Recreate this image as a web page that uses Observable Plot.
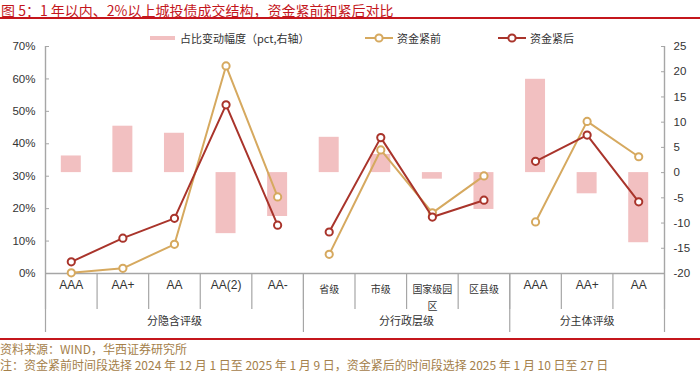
<!DOCTYPE html>
<html><head><meta charset="utf-8">
<script src="https://cdn.jsdelivr.net/npm/d3@7"></script>
<script src="https://cdn.jsdelivr.net/npm/@observablehq/plot@0.6"></script>
<style>
body{margin:0;width:700px;height:372px;overflow:hidden;background:#fff;font-family:"Noto Sans CJK SC",sans-serif;position:relative}
#title{height:17px;line-height:20px;font-size:14px;color:#c4161c;padding-left:1px;border-bottom:2px solid #c4161c;white-space:nowrap;overflow:visible}
#chart{margin-top:3px;height:316px}
#chart svg{display:block}
#foot{border-top:2px solid #c4161c;color:#a4804a;font-size:12px;white-space:nowrap;padding-top:1px}
#foot div{line-height:16px;height:16px}
.lg{position:absolute;font-size:11px;color:#333;white-space:nowrap;line-height:14px}
</style></head>
<body>
<div id="title">图 5：1 年以内、2%以上城投债成交结构，资金紧前和紧后对比</div>
<div id="chart"></div>
<div id="foot"><div>资料来源：WIND，华西证券研究所</div><div>注：资金紧前时间段选择 2024 年 12 月 1 日至 2025 年 1 月 9 日，资金紧后的时间段选择 2025 年 1 月 10 日至 27 日</div></div>
<div id="legend"></div>
<script>
const categories = ["AAA","AA+","AA","AA(2)","AA-","省级","市级","国家级园区","区县级","AAA","AA+","AA"];
const categoryLabels = ["AAA","AA+","AA","AA(2)","AA-","省级","市级","国家级园\n区","区县级","AAA","AA+","AA"];
const groupNames = ["分隐含评级","分行政层级","分主体评级"];
const groupOf = [0,0,0,0,0,1,1,1,1,2,2,2];
const before = [0.2,1.6,9.0,64.0,23.6,5.9,38.1,18.7,30.1,15.9,46.9,36.0];
const after = [3.6,10.9,17.0,52.0,14.9,12.8,41.9,17.4,22.6,34.6,42.7,22.1];
const change = [3.3,9.2,7.8,-12.1,-8.7,7.0,3.6,-1.3,-7.3,18.5,-4.2,-13.9];
const leftTicks = [0,10,20,30,40,50,60,70];
const rightTicks = [-20,-15,-10,-5,0,5,10,15,20,25];
const seriesNames = ["占比变动幅度（pct,右轴）","资金紧前","资金紧后"];

const leftDomain = [0,70], rightDomain = [-20,25];
const toLeft = v => leftDomain[0] + (v - rightDomain[0]) * (leftDomain[1]-leftDomain[0]) / (rightDomain[1]-rightDomain[0]);
const toRight = v => rightDomain[0] + (v - leftDomain[0]) * (rightDomain[1]-rightDomain[0]) / (leftDomain[1]-leftDomain[0]);

const rows = categories.map((c,i)=>({i, c, g: groupOf[i], before: before[i], after: after[i], change: change[i]}));
const n = categories.length;
const dividers = d3.range(n+1).map(i => i - 0.5);
const groupBounds = [-0.5];
groupNames.forEach((g,k)=>{ const idx = rows.filter(r=>r.g===k).map(r=>r.i); groupBounds.push(d3.max(idx)+0.5); });
const groupCenters = groupNames.map((g,k)=>{ const idx = rows.filter(r=>r.g===k).map(r=>r.i); return (d3.min(idx)+d3.max(idx))/2; });
const isCJK = s => /[\u4e00-\u9fff]/.test(s);
const latinIdx = rows.filter(r=>!isCJK(r.c)).map(r=>r.i);
const cjkIdx = rows.filter(r=>isCJK(r.c)).map(r=>r.i);

const GOLD = "#d6a95f", RED = "#a9342b", PINK = "#f2c0c1", AXIS = "#a6a6a6", TXT = "#333";
const LATIN = "'Liberation Sans', Arial, sans-serif";
const CJK = "'Noto Sans CJK SC', sans-serif";

const chart = Plot.plot({
  width: 700, height: 316,
  marginLeft: 45, marginRight: 36, marginTop: 24, marginBottom: 65,
  style: {fontFamily: LATIN, color: TXT, background: "#fff"},
  x: {type: "linear", domain: [-0.5, n - 0.5], label: null},
  y: {domain: leftDomain, label: null},
  marks: [
    Plot.rectY(rows, {x1: d => d.i - 0.5, x2: d => d.i + 0.5, y1: () => toLeft(0), y2: d => toLeft(d.change), fill: PINK, insetLeft: 15.8, insetRight: 15.8}),
    Plot.ruleY([leftDomain[0]], {stroke: AXIS, strokeWidth: 1.4}),
    Plot.ruleX([-0.5, n - 0.5], {y1: leftDomain[0], y2: leftDomain[1], stroke: AXIS, strokeWidth: 1.4}),
    Plot.axisY(leftTicks, {anchor: "left", label: null, tickSize: -4, tickPadding: 14, tickFormat: d => d + "%", fontSize: 11.5, stroke: AXIS, fill: TXT}),
    Plot.axisY(rightTicks.map(toLeft), {anchor: "right", label: null, tickSize: -4, tickPadding: 13, tickFormat: d => String(Math.round(toRight(d))), fontSize: 11.5, stroke: AXIS, fill: TXT}),
    Plot.axisX(dividers, {label: null, tickSize: 36, tickFormat: () => "", stroke: AXIS, strokeWidth: 1.2}),
    Plot.axisX(groupBounds, {label: null, tickSize: 59, tickFormat: () => "", stroke: AXIS, strokeWidth: 1.2}),
    Plot.axisX(latinIdx, {label: null, tickSize: 0, tickPadding: 7, tickFormat: i => categoryLabels[i], fontSize: 12, fontFamily: LATIN, fill: TXT}),
    Plot.axisX(cjkIdx, {label: null, tickSize: 0, tickPadding: 8, tickFormat: i => categoryLabels[i], fontSize: 10, lineHeight: 1.65, fontFamily: CJK, fill: TXT}),
    Plot.axisX(groupCenters, {label: null, tickSize: 0, tickPadding: 44, tickFormat: d => groupNames[groupCenters.indexOf(d)], fontSize: 11, fontFamily: CJK, fill: TXT}),
    Plot.line(rows, {x: "i", y: "before", z: "g", stroke: GOLD, strokeWidth: 2}),
    Plot.dot(rows, {x: "i", y: "before", r: 3.6, stroke: GOLD, strokeWidth: 2, fill: "white"}),
    Plot.line(rows, {x: "i", y: "after", z: "g", stroke: RED, strokeWidth: 2}),
    Plot.dot(rows, {x: "i", y: "after", r: 3.6, stroke: RED, strokeWidth: 2, fill: "white"})
  ]
});
document.getElementById("chart").appendChild(chart);

// legend
const lg = document.getElementById("legend");
function add(html){ const d = document.createElement("div"); d.innerHTML = html; lg.appendChild(d.firstChild); }
add(`<div class="lg" style="left:150px;top:36px;width:25px;height:4px;background:${PINK}"></div>`);
add(`<div class="lg" style="left:180px;top:31px">${seriesNames[0]}</div>`);
const lineSw = (left, color) => `<svg class="lg" style="left:${left}px;top:32px" width="30" height="12"><line x1="1" x2="29" y1="6" y2="6" stroke="${color}" stroke-width="2"/><circle cx="15" cy="6" r="3.6" fill="white" stroke="${color}" stroke-width="2"/></svg>`;
add(lineSw(364, GOLD));
add(`<div class="lg" style="left:397px;top:31px">${seriesNames[1]}</div>`);
add(lineSw(497, RED));
add(`<div class="lg" style="left:530px;top:31px">${seriesNames[2]}</div>`);
</script>
</body></html>
